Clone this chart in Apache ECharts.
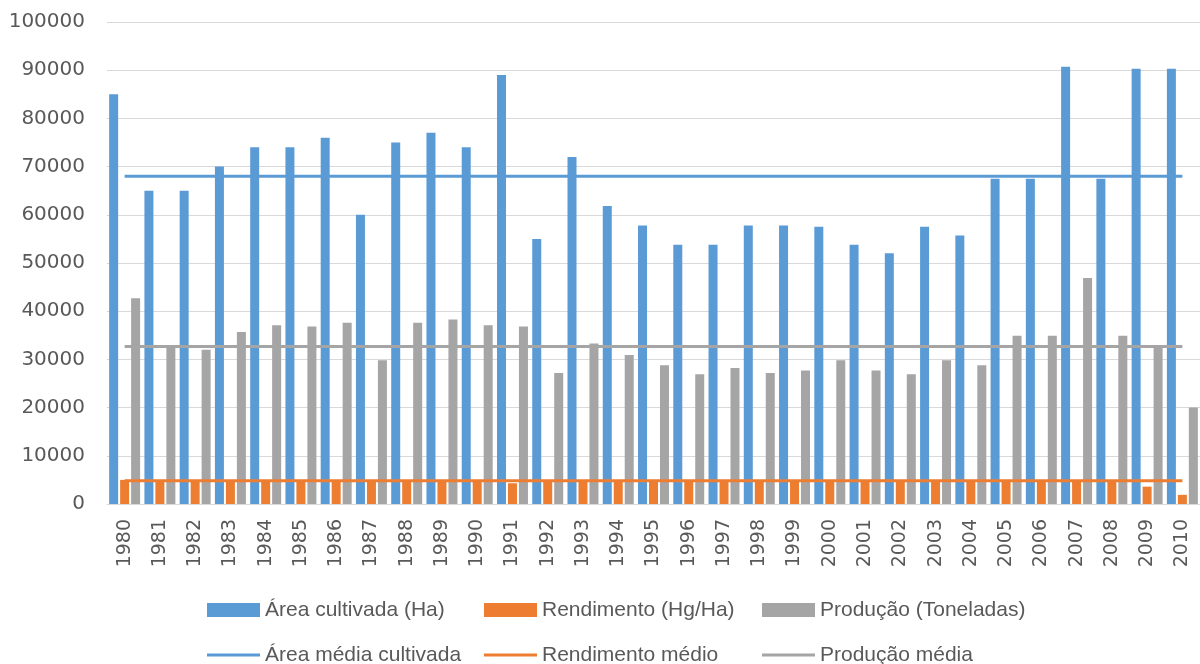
<!DOCTYPE html>
<html>
<head>
<meta charset="utf-8">
<script src="https://cdn.jsdelivr.net/npm/echarts@6/dist/echarts.min.js"></script>
<style>
  html, body { margin: 0; padding: 0; background: #ffffff; }
  #chart { width: 1200px; height: 664px; }
</style>
</head>
<body>
<div id="chart"></div>
<script>
// Anos da série
const years = ['1980','1981','1982','1983','1984','1985','1986','1987','1988','1989',
  '1990','1991','1992','1993','1994','1995','1996','1997','1998','1999',
  '2000','2001','2002','2003','2004','2005','2006','2007','2008','2009','2010'];

// Área cultivada (Ha)
const areaCultivada = [85000, 65000, 65000, 70000, 74000, 74000, 76000, 60000, 75000, 77000,
  74000, 89000, 55000, 72000, 61800, 57800, 53800, 53800, 57800, 57800,
  57500, 53800, 52000, 57500, 55700, 67500, 67500, 90700, 67500, 90300, 90300];

// Rendimento (Hg/Ha)
const rendimento = [5000, 4900, 4900, 4900, 4900, 4900, 4900, 4900, 4900, 4900,
  4900, 4300, 4900, 4900, 4900, 4900, 4900, 4900, 4900, 4900,
  4900, 4900, 4900, 4900, 4900, 4900, 4900, 4900, 4900, 3600, 1900];

// Produção (Toneladas)
const producao = [42700, 33000, 32000, 35700, 37100, 36800, 37600, 29800, 37600, 38300,
  37100, 36800, 27200, 33300, 30900, 28800, 26900, 28200, 27200, 27700,
  29800, 27700, 26900, 29800, 28800, 34900, 34900, 46900, 34900, 32500, 20000];

// Médias do período
const areaMedia = 68000;
const rendimentoMedio = 4800;
const producaoMedia = 32700;

// Escala do eixo vertical
const yMin = 0, yMax = 100000, yStep = 10000;

const BLUE = '#5B9BD5', ORANGE = '#ED7D31', GRAY = '#A5A5A5';
const TXT = '#595959';

const chart = echarts.init(document.getElementById('chart'), null, { renderer: 'canvas' });

// Uma legenda por item, dispostas em duas linhas e três colunas
const legendFont = { fontFamily: 'Liberation Sans, Arial, sans-serif', fontSize: 21, lineHeight: 22, color: TXT };
function legendItem(name, left, top, isLine) {
  return {
    data: [name], left: left, top: top, orient: 'horizontal', padding: 0,
    icon: 'rect', itemWidth: 53, itemHeight: isLine ? 3 : 14, itemGap: 0,
    textStyle: legendFont, selectedMode: false
  };
}

const first = years[0], last = years[years.length - 1];

chart.setOption({
  animation: false,
  backgroundColor: '#ffffff',
  grid: { left: 107, right: -5, top: 22, bottom: 160, containLabel: false },
  legend: [
    legendItem('Área cultivada (Ha)', 207, 599, false),
    legendItem('Rendimento (Hg/Ha)', 484, 599, false),
    legendItem('Produção (Toneladas)', 762, 599, false),
    legendItem('Área média cultivada', 207, 644, true),
    legendItem('Rendimento médio', 484, 644, true),
    legendItem('Produção média', 762, 644, true)
  ],
  xAxis: {
    type: 'category',
    data: years,
    boundaryGap: true,
    axisLine: { show: true, lineStyle: { color: '#D9D9D9', width: 1 } },
    axisTick: { show: false },
    axisLabel: {
      rotate: 90, interval: 0, margin: 15,
      fontFamily: 'DejaVu Sans', fontSize: 19, color: TXT
    }
  },
  yAxis: {
    type: 'value', min: yMin, max: yMax, interval: yStep,
    axisLine: { show: false },
    axisTick: { show: false },
    splitLine: { lineStyle: { color: '#D9D9D9', width: 1 } },
    axisLabel: {
      margin: 22, fontFamily: 'DejaVu Sans', fontSize: 20, color: TXT,
      formatter: function (v) { return String(v); }
    }
  },
  series: [
    { name: 'Área cultivada (Ha)', type: 'bar', data: areaCultivada, barWidth: 9, barGap: '22%',
      itemStyle: { color: BLUE }, z: 2 },
    { name: 'Rendimento (Hg/Ha)', type: 'bar', data: rendimento, barWidth: 9, barGap: '22%',
      itemStyle: { color: ORANGE }, z: 2 },
    { name: 'Produção (Toneladas)', type: 'bar', data: producao, barWidth: 9, barGap: '22%',
      itemStyle: { color: GRAY }, z: 2 },
    { name: 'Área média cultivada', type: 'line', data: [[first, areaMedia], [last, areaMedia]],
      symbol: 'none', lineStyle: { color: BLUE, width: 3 }, itemStyle: { color: BLUE }, z: 5 },
    { name: 'Rendimento médio', type: 'line', data: [[first, rendimentoMedio], [last, rendimentoMedio]],
      symbol: 'none', lineStyle: { color: ORANGE, width: 3 }, itemStyle: { color: ORANGE }, z: 5 },
    { name: 'Produção média', type: 'line', data: [[first, producaoMedia], [last, producaoMedia]],
      symbol: 'none', lineStyle: { color: GRAY, width: 3 }, itemStyle: { color: GRAY }, z: 5 }
  ]
});
</script>
</body>
</html>
